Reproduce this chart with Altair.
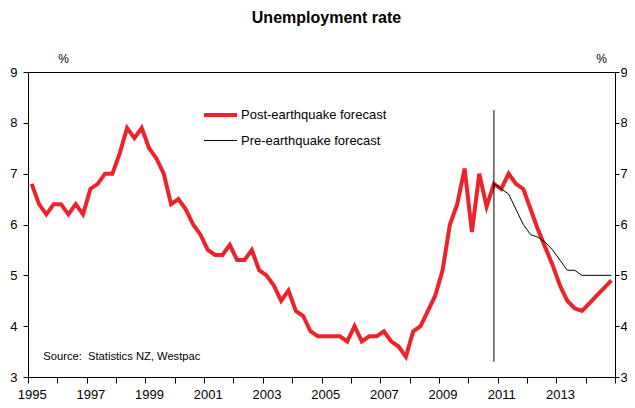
import altair as alt
import pandas as pd

# ---- data (quarterly, % of labour force) ----
first_year = 1995          # series begins 1995 Q1
post_quake = [
    6.8, 6.4, 6.2, 6.4, 6.4, 6.2, 6.4, 6.2,      # 1995-1996
    6.7, 6.8, 7.0, 7.0, 7.4, 7.9, 7.7, 7.9,      # 1997-1998
    7.5, 7.3, 7.0, 6.4, 6.5, 6.3, 6.0, 5.8,      # 1999-2000
    5.5, 5.4, 5.4, 5.6, 5.3, 5.3, 5.5, 5.1,      # 2001-2002
    5.0, 4.8, 4.5, 4.7, 4.3, 4.2, 3.9, 3.8,      # 2003-2004
    3.8, 3.8, 3.8, 3.7, 4.0, 3.7, 3.8, 3.8,      # 2005-2006
    3.9, 3.7, 3.6, 3.4, 3.9, 4.0, 4.3, 4.6,      # 2007-2008
    5.1, 6.0, 6.4, 7.1, 5.85, 7.0, 6.35, 6.8,    # 2009-2010
    6.7, 7.0, 6.8, 6.7, 6.3, 5.9, 5.55, 5.2,     # 2011-2012
    4.8, 4.5, 4.35, 4.3, 4.45, 4.6, 4.75, 4.9,   # 2013-2014
]
pre_quake_start = (2010, 4)  # 2010 Q4
pre_quake = [6.8, 6.7, 6.6, 6.3, 6.0, 5.8, 5.75, 5.65, 5.5, 5.3, 5.1, 5.1,
             5.0, 5.0, 5.0, 5.0, 5.0]
series_names = ["Post-earthquake forecast", "Pre-earthquake forecast"]
series_colors = ["#EE2229", "#000000"]
series_widths = [4, 1]
marker_quarter = (2010, 4)   # vertical line (earthquake)
marker_range = [3.3, 8.25]
y_ticks = [3, 4, 5, 6, 7, 8, 9]
year_ticks = list(range(1995, 2016))
year_labels = list(range(1995, 2014, 2))
source_note = "Source:\u00a0 Statistics NZ, Westpac"
source_pos = (1995.52, 3.4)


def quarter_mid(year, q):
    return year + (q - 0.5) / 4.0


rows = []
for i, v in enumerate(post_quake):
    y, q = first_year + i // 4, i % 4 + 1
    rows.append({"t": quarter_mid(y, q), "v": v, "series": series_names[0]})
for i, v in enumerate(pre_quake):
    k = (pre_quake_start[1] - 1) + i
    y, q = pre_quake_start[0] + k // 4, k % 4 + 1
    rows.append({"t": quarter_mid(y, q), "v": v, "series": series_names[1]})
lines_df = pd.DataFrame(rows)

marker_df = pd.DataFrame({"t": [quarter_mid(*marker_quarter)],
                          "lo": [marker_range[0]], "hi": [marker_range[1]]})
note_df = pd.DataFrame({"t": [source_pos[0]], "v": [source_pos[1]], "label": [source_note]})

FONT = "Liberation Sans"

x_scale = alt.Scale(domain=[1995, 2015], nice=False, zero=False)
y_scale = alt.Scale(domain=[3, 9], nice=False, zero=False)

# year ticks at year boundaries
tick_axis = alt.Axis(orient="bottom", values=year_ticks, labels=False,
                     tickSize=6, title=None, grid=False)
# year labels centred on each year's first quarter (as in the category axis)
label_axis = alt.Axis(orient="bottom", values=[quarter_mid(y, 1) for y in year_labels],
                      labelExpr="floor(datum.value) + ''", ticks=False, domain=False,
                      tickSize=6, labelFlush=False, labelOverlap=False,
                      labelPadding=11, title=None, grid=False)

left_axis = alt.Axis(orient="left", values=y_ticks, tickSize=5, labelPadding=6,
                     title="%", titleAngle=0, titleX=35, titleY=-14,
                     titleAlign="center", titleBaseline="middle", grid=False)
right_axis = alt.Axis(orient="right", values=y_ticks, tickSize=4, labelPadding=1,
                      title="%", titleAngle=0, titleX=-14, titleY=-14,
                      titleAlign="center", titleBaseline="middle", grid=False)

legend = alt.Legend(title=None, orient="none", legendX=174, legendY=24.5,
                    symbolType="stroke", symbolSize=1089, rowPadding=-13,
                    labelOffset=2, padding=0, labelFont=FONT, labelFontSize=13,
                    labelColor="#000000")

lines = alt.Chart(lines_df).mark_line(strokeJoin="miter").encode(
    x=alt.X("t:Q", scale=x_scale, axis=tick_axis),
    y=alt.Y("v:Q", scale=y_scale, axis=left_axis),
    color=alt.Color("series:N",
                    scale=alt.Scale(domain=series_names, range=series_colors),
                    legend=legend),
    strokeWidth=alt.StrokeWidth("series:N",
                                scale=alt.Scale(domain=series_names, range=series_widths),
                                legend=legend),
    order="t:Q",
)

marker = alt.Chart(marker_df).mark_rule(color="#000000", strokeWidth=1).encode(
    x=alt.X("t:Q", scale=x_scale, axis=label_axis),
    y=alt.Y("hi:Q", scale=y_scale, axis=right_axis),
    y2="lo:Q",
)

note = alt.Chart(note_df).mark_text(align="left", baseline="middle", font=FONT,
                                    fontSize=11.2, color="#000000").encode(
    x=alt.X("t:Q", scale=x_scale, axis=None),
    y=alt.Y("v:Q", scale=y_scale, axis=None),
    text="label:N",
)

chart = alt.layer(lines, marker, note).resolve_axis(
    x="independent", y="independent"
).properties(
    width=587, height=305,
    autosize=alt.AutoSizeParams(type="none"),
    padding={"left": 20, "top": 64, "right": 12, "bottom": 30},
    title=alt.TitleParams("Unemployment rate", font=FONT, fontSize=16,
                          fontWeight="bold", anchor="middle", color="#000000",
                          offset=26, dx=5),
).configure_view(stroke="#000000", strokeWidth=1).configure_axis(
    domainColor="#000000", tickColor="#000000", labelColor="#000000",
    titleColor="#000000", labelFont=FONT, labelFontSize=13,
    titleFont=FONT, titleFontSize=12, titleFontWeight="normal",
    domainWidth=1, tickWidth=1,
)

chart.save("out.html", embed_options={"renderer": "svg", "actions": False})
